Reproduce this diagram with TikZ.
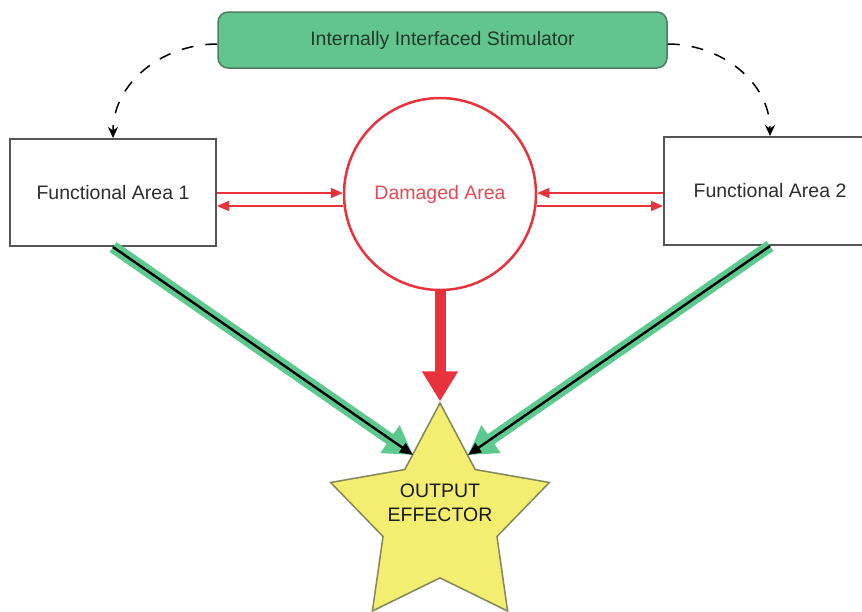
\documentclass[tikz,border=0pt]{standalone}
\usepackage{fontspec}
\setmainfont{Liberation Sans}
\usetikzlibrary{arrows.meta,shapes.geometric}
\definecolor{stimfill}{HTML}{62C48E}
\definecolor{stimedge}{HTML}{4F7F63}
\definecolor{stimtext}{HTML}{1D3A29}
\definecolor{boxedge}{HTML}{555555}
\definecolor{boxtext}{HTML}{2E2E2E}
\definecolor{dmgred}{HTML}{E8333D}
\definecolor{dmgtext}{HTML}{E64A52}
\definecolor{pathgreen}{HTML}{5CC98F}
\definecolor{starfill}{HTML}{F3EE70}
\definecolor{staredge}{HTML}{85855A}
\tikzset{
  stimbox/.style={draw=stimedge, line width=1.5pt, fill=stimfill, rounded corners=10pt,
    minimum width=449pt, minimum height=56pt, text=stimtext, inner sep=0pt},
  areabox/.style={draw=boxedge, line width=2pt, fill=white, minimum width=206pt,
    minimum height=107pt, text=boxtext, inner sep=0pt},
  damaged/.style={circle, draw=dmgred, line width=2.5pt, minimum size=192pt,
    text=dmgtext, inner sep=0pt},
  effector/.style={star, star points=5, star point ratio=1.92, minimum size=230pt,
    inner sep=0pt, draw=staredge, line width=1.5pt, fill=starfill},
  dasharrow/.style={draw=black, line width=1.5pt, dash pattern=on 12pt off 12pt,
    -{Stealth[length=11pt,width=10pt]}},
  thinred/.style={draw=dmgred, line width=1.5pt, -{Triangle[length=12pt,width=10pt]}},
  bigred/.style={draw=dmgred, line width=11pt, -{Triangle[length=30pt,width=34pt]}},
  greenpath/.style={draw=pathgreen, line width=12pt, -{Triangle[length=28pt,width=32pt]}},
  blackpath/.style={draw=black, line width=2.4pt, -{Triangle[length=13pt,width=11pt]}},
}
\begin{document}
\begin{tikzpicture}[x=1pt, y=-1pt, font=\fontsize{19.5}{23.5}\selectfont]
\useasboundingbox (0,0) rectangle (862,611);
\fill[white] (0,0) rectangle (862,611);

% blocks
\node[stimbox] (stim) at (442.5,40) {Internally Interfaced Stimulator};
\node[areabox] (fa1) at (113,192.5) {Functional Area 1};
\node[areabox, minimum width=212pt, minimum height=108pt] (fa2) at (770,191) {Functional Area 2};
\node[damaged] (dam) at (440,194) {Damaged Area};
\node[effector] (eff) at (440,518) {};
\node[align=center, text=black!90, inner sep=0pt] (efftext) at (440,503) {OUTPUT\\EFFECTOR};

% arrow tips on the star
\coordinate (tipL) at (413,455);
\coordinate (tipR) at (468,455);

% stimulator to the functional areas
\draw[dasharrow] ([yshift=-4pt]stim.west) to[out=180, in=90] (fa1.north);
\draw[dasharrow] ([yshift=-4pt]stim.east) to[out=0, in=90] (fa2.north);

% exchanges with the damaged area
\draw[thinred] (fa1.east |- 0,193) -- (dam.west |- 0,193);
\draw[thinred] (dam.west |- 0,206) -- (fa1.east |- 0,206);
\draw[thinred] (fa2.west |- 0,193) -- (dam.east |- 0,193);
\draw[thinred] (dam.east |- 0,206) -- (fa2.west |- 0,206);

% paths to the output effector
\draw[bigred] (dam.south) -- (eff.north);
\draw[greenpath] (fa1.south) -- (tipL);
\draw[blackpath] (fa1.south) -- (tipL);
\draw[greenpath] (fa2.south) -- (tipR);
\draw[blackpath] (fa2.south) -- (tipR);
\end{tikzpicture}
\end{document}
